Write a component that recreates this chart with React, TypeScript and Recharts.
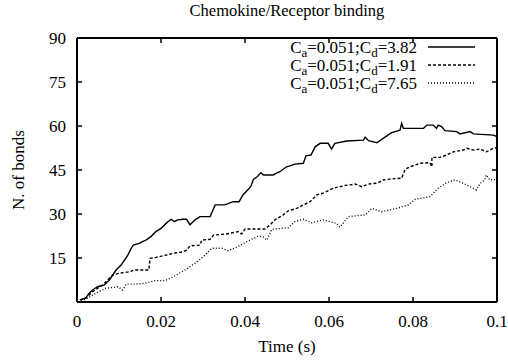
import { LineChart, Line, XAxis, YAxis, Legend } from 'recharts';

const FONT = '"Liberation Serif", "Times New Roman", serif';

// time (s) / number of bonds
const solidT = [0.0007, 0.0021, 0.0029, 0.0037, 0.0049, 0.0065, 0.0077, 0.0085, 0.0093, 0.0105, 0.0113, 0.0121, 0.0129, 0.0134, 0.0148, 0.0156, 0.0164, 0.0176, 0.0188, 0.02, 0.0212, 0.0224, 0.0232, 0.024, 0.0252, 0.0261, 0.0269, 0.0281, 0.0293, 0.0317, 0.0329, 0.0352, 0.0372, 0.0386, 0.0395, 0.0408, 0.0414, 0.042, 0.0429, 0.0438, 0.0444, 0.0467, 0.0475, 0.0483, 0.0499, 0.0507, 0.0519, 0.0539, 0.0545, 0.0557, 0.0567, 0.0579, 0.0598, 0.0606, 0.0614, 0.0642, 0.0682, 0.0686, 0.0694, 0.0714, 0.0729, 0.0749, 0.0757, 0.0769, 0.0773, 0.0777, 0.0825, 0.0833, 0.0848, 0.0856, 0.086, 0.0868, 0.0876, 0.0904, 0.0912, 0.0936, 0.0944, 0.0991, 0.1];
const solidV = [0.7, 1.4, 3.0, 4.1, 5.2, 5.8, 7.5, 9.2, 10.9, 12.6, 14.3, 16.0, 18.3, 19.4, 20.0, 20.6, 21.1, 22.3, 24.0, 25.1, 26.8, 28.2, 27.4, 28.0, 28.2, 28.2, 26.3, 28.0, 29.1, 29.1, 33.1, 33.1, 34.2, 34.2, 36.5, 38.4, 39.5, 41.8, 42.7, 44.1, 43.3, 43.3, 43.9, 44.4, 46.1, 46.4, 47.0, 47.3, 49.8, 50.1, 52.9, 54.1, 54.1, 52.1, 54.1, 54.9, 55.2, 56.2, 55.0, 54.3, 55.8, 57.7, 58.1, 58.6, 60.9, 59.2, 59.2, 60.3, 60.3, 59.2, 60.3, 59.8, 58.4, 58.1, 57.3, 58.1, 57.3, 56.9, 56.4];

const dashT = [0.0007, 0.0021, 0.0037, 0.0061, 0.0077, 0.0085, 0.0101, 0.0125, 0.0136, 0.0171, 0.0174, 0.0188, 0.0212, 0.0236, 0.0252, 0.0261, 0.0269, 0.0293, 0.0297, 0.0317, 0.0325, 0.0356, 0.0384, 0.0392, 0.04, 0.0448, 0.046, 0.0471, 0.0491, 0.0503, 0.0523, 0.0539, 0.0555, 0.0571, 0.0586, 0.061, 0.0638, 0.0662, 0.0678, 0.0694, 0.0714, 0.0729, 0.0745, 0.0773, 0.0781, 0.0793, 0.0817, 0.084, 0.0845, 0.0845, 0.0864, 0.088, 0.0896, 0.092, 0.0928, 0.0944, 0.096, 0.0975, 0.0991, 0.1];
const dashV = [0.7, 1.3, 3.5, 5.8, 8.1, 9.2, 9.8, 10.3, 10.9, 10.9, 14.9, 15.2, 16.0, 16.8, 17.1, 17.7, 19.1, 19.4, 21.1, 21.4, 22.8, 23.2, 24.0, 23.2, 24.9, 24.9, 26.3, 28.0, 29.7, 31.1, 31.9, 33.1, 34.2, 36.5, 37.1, 38.8, 39.7, 40.2, 39.3, 40.2, 40.5, 41.6, 41.9, 42.2, 45.2, 46.1, 47.3, 47.5, 46.1, 49.3, 49.3, 50.1, 51.2, 51.8, 52.4, 51.8, 52.1, 51.2, 52.4, 52.6];

const dotT = [0.001, 0.0025, 0.0045, 0.0069, 0.0097, 0.0109, 0.0117, 0.0138, 0.0162, 0.0186, 0.021, 0.0233, 0.0257, 0.0281, 0.0305, 0.0321, 0.0345, 0.036, 0.0384, 0.0404, 0.0432, 0.0444, 0.0452, 0.0464, 0.0487, 0.0503, 0.0519, 0.0539, 0.0559, 0.0586, 0.0618, 0.0626, 0.0646, 0.0686, 0.0702, 0.0725, 0.0745, 0.0761, 0.0789, 0.0805, 0.084, 0.086, 0.088, 0.09, 0.0916, 0.0936, 0.0951, 0.096, 0.0971, 0.0974, 0.0983, 0.1];
const dotV = [0.3, 1.3, 3.0, 4.7, 5.2, 4.1, 6.1, 6.1, 6.4, 7.3, 7.3, 8.9, 10.9, 13.2, 16.0, 18.3, 18.3, 17.5, 18.9, 20.6, 22.5, 22.1, 21.1, 24.8, 25.1, 25.3, 27.4, 28.2, 27.0, 28.0, 26.8, 25.5, 29.1, 29.7, 31.9, 30.8, 31.4, 31.9, 33.1, 35.0, 35.9, 38.8, 40.7, 41.6, 40.7, 39.3, 38.2, 40.5, 41.6, 43.3, 41.6, 41.8];

const xTicks = [0, 0.02, 0.04, 0.06, 0.08, 0.1];
const yTicks = [15, 30, 45, 60, 75, 90];

const seriesNames = ['3.82', '1.91', '7.65'];
const seriesDash = ['0', '3 2', '1 2'];
// the dotted series is drawn on the mirrored (top/right) axes so those get rendered too
const seriesX = ['0', '0', 'top'];
const seriesY = ['0', '0', 'right'];

const zip = (t: number[], v: number[]) => t.map((x, i) => ({ t: x, v: v[i] }));
const series = [zip(solidT, solidV), zip(dashT, dashV), zip(dotT, dotV)];

const BottomTick = ({ x, y, payload }: any) => (
  <g>
    <line x1={x} x2={x} y1={y} y2={y - 5} stroke="#000" strokeWidth={1.5} />
    <text x={x} y={y + 25} textAnchor="middle" fontFamily={FONT} fontSize={17} fill="#000">
      {String(payload.value)}
    </text>
  </g>
);

const TopTick = ({ x, y }: any) => (
  <line x1={x} x2={x} y1={y} y2={y + 5} stroke="#000" strokeWidth={1.5} />
);

const LeftTick = ({ x, y, payload }: any) => (
  <g>
    <line x1={x} x2={x + 5} y1={y} y2={y} stroke="#000" strokeWidth={1.5} />
    <text x={x - 11} y={y + 6} textAnchor="end" fontFamily={FONT} fontSize={17} fill="#000">
      {String(payload.value)}
    </text>
  </g>
);

const RightTick = ({ x, y }: any) => (
  <line x1={x} x2={x - 5} y1={y} y2={y} stroke="#000" strokeWidth={1.5} />
);

const KeyBox = () => (
  <svg width={210} height={60}>
    {seriesNames.map((name, i) => {
      const cy = 12 + i * 18;
      return (
        <g key={name}>
          <text x={137} y={cy + 6} textAnchor="end" fontFamily={FONT} fontSize={17} fill="#000">
            <tspan>C</tspan>
            <tspan dy={4} fontSize={13}>a</tspan>
            <tspan dy={-4}>=0.051;C</tspan>
            <tspan dy={4} fontSize={13}>d</tspan>
            <tspan dy={-4}>={name}</tspan>
          </text>
          <line x1={148} x2={195} y1={cy} y2={cy} stroke="#000" strokeWidth={1.4} strokeDasharray={seriesDash[i]} />
        </g>
      );
    })}
  </svg>
);

export default function App() {
  return (
    <div style={{ position: 'absolute', left: 0, top: 0, background: '#fff' }}>
      <LineChart width={508} height={362} margin={{ top: 37, right: 10, bottom: 0, left: 0 }}>
        <XAxis
          dataKey="t"
          type="number"
          domain={[0, 0.1]}
          ticks={xTicks}
          height={60}
          tickSize={0}
          tickMargin={0}
          tick={<BottomTick />}
          axisLine={{ stroke: '#000', strokeWidth: 2 }}
          allowDataOverflow
          label={({ viewBox }: any) => (
            <text x={viewBox.x + viewBox.width / 2} y={viewBox.y + 50} textAnchor="middle" fontFamily={FONT} fontSize={17} fill="#000">
              Time (s)
            </text>
          )}
        />
        <XAxis
          xAxisId="top"
          dataKey="t"
          orientation="top"
          type="number"
          domain={[0, 0.1]}
          ticks={xTicks}
          height={1}
          tickSize={0}
          tickMargin={0}
          tick={<TopTick />}
          axisLine={{ stroke: '#000', strokeWidth: 2 }}
          allowDataOverflow
          label={({ viewBox }: any) => (
            <text x={viewBox.x + viewBox.width / 2} y={viewBox.y + viewBox.height - 22} textAnchor="middle" fontFamily={FONT} fontSize={16.5} fill="#000">
              Chemokine/Receptor binding
            </text>
          )}
        />
        <YAxis
          type="number"
          domain={[0, 90]}
          ticks={yTicks}
          width={77}
          tickSize={0}
          tickMargin={0}
          tick={<LeftTick />}
          axisLine={{ stroke: '#000', strokeWidth: 2 }}
          allowDataOverflow
          label={({ viewBox }: any) => {
            const cx = viewBox.x + 18;
            const cy = viewBox.y + viewBox.height / 2;
            return (
              <text x={cx} y={cy} transform={`rotate(-90 ${cx} ${cy})`} textAnchor="middle" dominantBaseline="central" fontFamily={FONT} fontSize={17} fill="#000">
                N. of bonds
              </text>
            );
          }}
        />
        <YAxis
          yAxisId="right"
          orientation="right"
          type="number"
          domain={[0, 90]}
          ticks={yTicks}
          width={1}
          tickSize={0}
          tickMargin={0}
          tick={<RightTick />}
          axisLine={{ stroke: '#000', strokeWidth: 2 }}
          allowDataOverflow
        />
        <Legend
          layout="vertical"
          align="center"
          verticalAlign="middle"
          content={() => <KeyBox />}
          wrapperStyle={{ left: 280, top: 35, width: 210 }}
        />
        {series.map((d, i) => (
          <Line
            key={seriesNames[i]}
            data={d}
            dataKey="v"
            xAxisId={seriesX[i] === '0' ? 0 : seriesX[i]}
            yAxisId={seriesY[i] === '0' ? 0 : seriesY[i]}
            type="linear"
            stroke="#000"
            strokeWidth={1.4}
            strokeDasharray={seriesDash[i]}
            dot={false}
            activeDot={false}
            isAnimationActive={false}
          />
        ))}
      </LineChart>
    </div>
  );
}
